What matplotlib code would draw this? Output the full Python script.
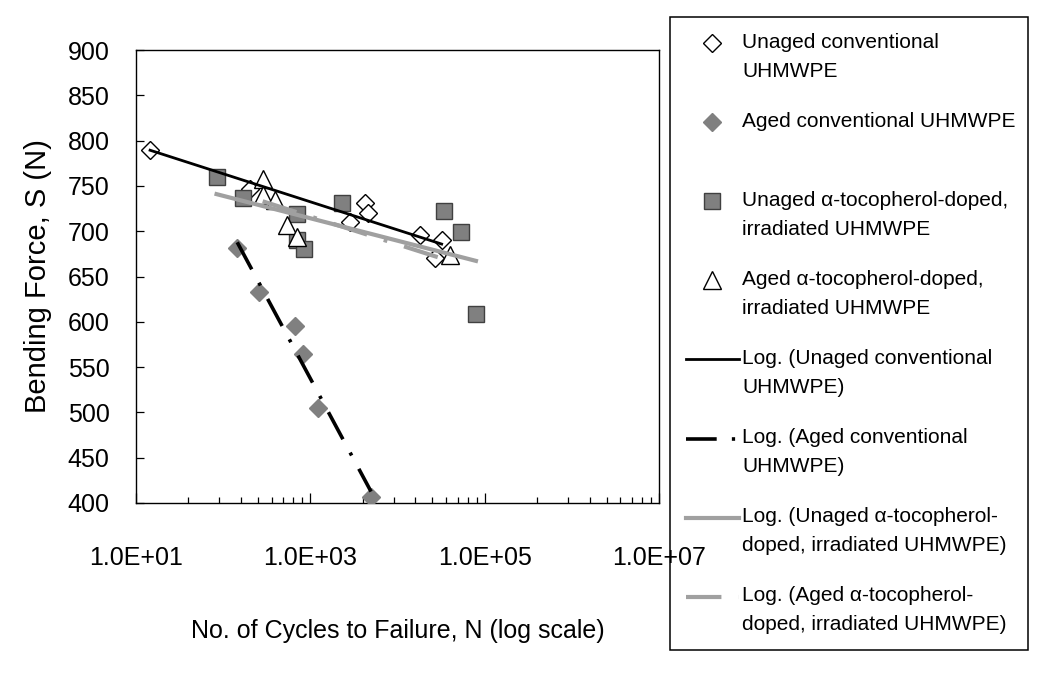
import numpy as np
import matplotlib.pyplot as plt
import matplotlib.transforms as mtransforms
from matplotlib.lines import Line2D
from matplotlib.legend_handler import HandlerLine2D
from matplotlib.ticker import FixedLocator, FuncFormatter, NullFormatter

plt.rcParams['font.family'] = ['Liberation Sans', 'DejaVu Sans']

# --- data (cycles to failure N, bending force S in N) ---
unaged_conv_N = [14.5, 203, 2850, 4240, 4620, 18100, 26900, 32100]
unaged_conv_S = [790, 747, 710, 731, 720, 696, 670, 690]

aged_conv_N = [145, 261, 670, 815, 1240, 4970]
aged_conv_S = [681, 633, 595, 564, 505, 407]

unaged_toco_N = [84, 170, 697, 697, 845, 2290, 34400, 53400, 79400]
unaged_toco_S = [760, 737, 719, 690, 680, 731, 722, 699, 609]

aged_toco_N = [284, 284, 394, 545, 708, 39800]
aged_toco_S = [758, 740, 734, 707, 694, 674]

series_names = ['Unaged conventional\nUHMWPE',
                'Aged conventional UHMWPE\n',
                'Unaged \u03b1-tocopherol-doped,\nirradiated UHMWPE',
                'Aged \u03b1-tocopherol-doped,\nirradiated UHMWPE']
trend_names = ['Log. (Unaged conventional\nUHMWPE)',
               'Log. (Aged conventional\nUHMWPE)',
               'Log. (Unaged \u03b1-tocopherol-\ndoped, irradiated UHMWPE)',
               'Log. (Aged \u03b1-tocopherol-\ndoped, irradiated UHMWPE)']

x_major = [1e1, 1e3, 1e5, 1e7]
y_ticks = np.arange(400, 901, 50)


def log_trend(N, S):
    # Excel style logarithmic trendline: S = a*ln(N) + b over the data range
    a, b = np.polyfit(np.log(N), S, 1)
    n = np.geomspace(min(N), max(N), 60)
    return n, a * np.log(n) + b


class FirstLineHandler(HandlerLine2D):
    # put the legend key next to the first line of a two-line label
    def create_artists(self, legend, orig_handle, xdescent, ydescent,
                       width, height, fontsize, trans):
        shift = mtransforms.Affine2D().translate(0, 0.66 * fontsize)
        return super().create_artists(legend, orig_handle, xdescent, ydescent,
                                      width, height, fontsize, shift + trans)


fig = plt.figure(figsize=(10.5, 6.78), dpi=100)
ax = fig.add_axes([136 / 1050, 1 - 503 / 678, 523 / 1050, 453 / 678])

gray = '#808080'
h1, = ax.plot(unaged_conv_N, unaged_conv_S, ls='none', marker='D', ms=9,
              mfc='white', mec='black', mew=1.0, zorder=3)
h2, = ax.plot(aged_conv_N, aged_conv_S, ls='none', marker='D', ms=9,
              mfc=gray, mec=gray, mew=1.0, zorder=3)
h3, = ax.plot(unaged_toco_N, unaged_toco_S, ls='none', marker='s', ms=11,
              mfc=gray, mec='#404040', mew=1.0, zorder=3)
h4, = ax.plot(aged_toco_N, aged_toco_S, ls='none', marker='^', ms=13,
              mfc='white', mec='black', mew=1.0, zorder=3)

dash_dot = (0, (8.5, 4.2, 0.9, 4.2))
n, s = log_trend(unaged_conv_N, unaged_conv_S)
t1, = ax.plot(n, s, color='black', lw=2.0, zorder=4)
n, s = log_trend(aged_conv_N, aged_conv_S)
t2, = ax.plot(n, s, color='black', lw=2.6, ls=dash_dot, zorder=4)
n, s = log_trend(unaged_toco_N, unaged_toco_S)
t3, = ax.plot(n, s, color='#a0a0a0', lw=3.0, zorder=4)
n, s = log_trend(aged_toco_N, aged_toco_S)
t4, = ax.plot(n, s, color='#a0a0a0', lw=3.0, ls=dash_dot, zorder=4)

ax.set_xscale('log')
ax.set_xlim(1e1, 1e7)
ax.set_ylim(400, 900)
ax.xaxis.set_major_locator(FixedLocator(x_major))
ax.xaxis.set_major_formatter(FuncFormatter(lambda v, p: f'{v:.1E}'))
# Excel draws the minor ticks of a base-100 log axis at 10*k^2 steps
minor = [10 * k * k * 100 ** j for j in range(3) for k in range(2, 10)]
ax.xaxis.set_minor_locator(FixedLocator(minor))
ax.xaxis.set_minor_formatter(NullFormatter())
ax.set_yticks(y_ticks)

ax.tick_params(axis='x', which='major', direction='in', length=7, width=0.9,
               labelsize=18, pad=31)
ax.tick_params(axis='x', which='minor', direction='in', length=4.5, width=0.9)
ax.tick_params(axis='y', which='major', direction='in', length=6, width=0.9,
               labelsize=18, pad=19)
for sp in ax.spines.values():
    sp.set_linewidth(1.0)

ax.set_xlabel('No. of Cycles to Failure, N (log scale)', fontsize=18)
ax.xaxis.set_label_coords(0.5, -0.255)
ax.set_ylabel('Bending Force, S (N)', fontsize=21)
ax.yaxis.set_label_coords(-0.16, 0.5)

handles = [h1, h2, h3, h4, t1, t2, t3, t4]
leg = fig.legend(handles, series_names + trend_names,
                 loc='upper left', mode='expand',
                 bbox_to_anchor=(670 / 1050, 0, 358 / 1050, 1 - 17 / 678),
                 bbox_transform=fig.transFigure,
                 fontsize=15, frameon=True, fancybox=False, shadow=False,
                 edgecolor='black', framealpha=1, borderpad=0.75,
                 labelspacing=1.49, handlelength=2.55, handletextpad=0.15,
                 borderaxespad=0,
                 handler_map={Line2D: FirstLineHandler(numpoints=1)})
leg.get_frame().set_linewidth(1.1)
leg.set_zorder(-1)  # the last x tick label sits on top of the legend box
for t in leg.get_texts():
    t.set_linespacing(1.67)

fig.savefig('out.png', dpi=100)
